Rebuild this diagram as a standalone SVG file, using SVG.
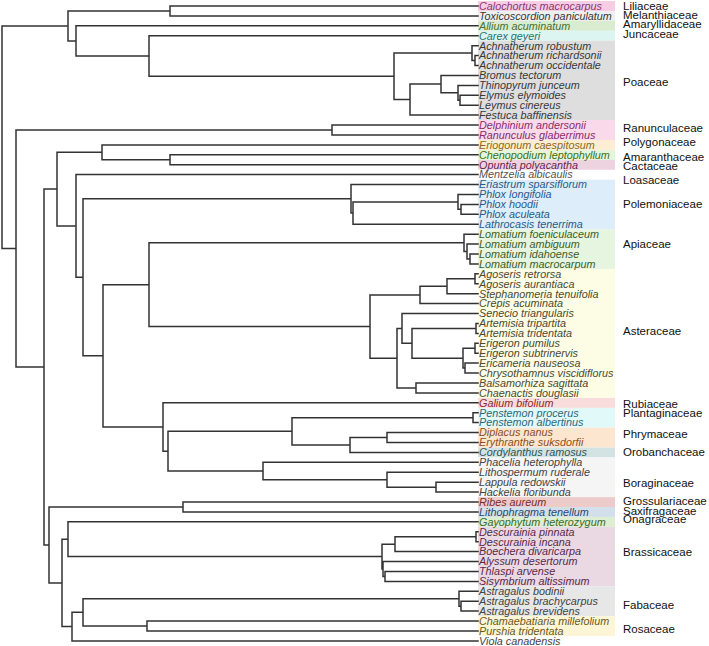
<svg xmlns="http://www.w3.org/2000/svg" width="709" height="646" viewBox="0 0 709 646">
<style>
.tip{font-family:"Liberation Sans",Arial,sans-serif;font-size:10.8px;font-style:italic;fill:#383838}
.fam{font-family:"Liberation Sans",Arial,sans-serif;font-size:11.5px;fill:#111}
.tree{fill:none;stroke:#333;stroke-width:1.5;stroke-linecap:square}
</style>
<rect width="709" height="646" fill="#fff"/>
<g id="bands">
<rect x="478" y="1.04" width="137" height="9.92" fill="#f7cde3"/>
<rect x="478" y="10.96" width="137" height="9.92" fill="#efefef"/>
<rect x="478" y="20.88" width="137" height="9.92" fill="#d9ecd0"/>
<rect x="478" y="30.8" width="137" height="9.92" fill="#dcf5f0"/>
<rect x="478" y="40.72" width="137" height="79.36" fill="#dedede"/>
<rect x="478" y="120.08" width="137" height="19.84" fill="#f9d9ea"/>
<rect x="478" y="140" width="137" height="9.92" fill="#fdedd3"/>
<rect x="478" y="149.92" width="137" height="9.92" fill="#e6f5d9"/>
<rect x="478" y="159.84" width="137" height="9.92" fill="#ecd3df"/>
<rect x="478" y="179.68" width="137" height="49.6" fill="#ddeefa"/>
<rect x="478" y="229.28" width="137" height="39.68" fill="#e5f5df"/>
<rect x="478" y="268.96" width="137" height="128.96" fill="#fdfde6"/>
<rect x="478" y="397.92" width="137" height="9.92" fill="#f9dcdc"/>
<rect x="478" y="407.84" width="137" height="19.84" fill="#e2f9f9"/>
<rect x="478" y="427.68" width="137" height="19.84" fill="#fde6d0"/>
<rect x="478" y="447.52" width="137" height="9.92" fill="#d3e3e3"/>
<rect x="478" y="457.44" width="137" height="39.68" fill="#f5f5f5"/>
<rect x="478" y="497.12" width="137" height="9.92" fill="#eecbcb"/>
<rect x="478" y="507.04" width="137" height="9.92" fill="#d3dfea"/>
<rect x="478" y="516.96" width="137" height="9.92" fill="#ddeed3"/>
<rect x="478" y="526.88" width="137" height="59.52" fill="#ead8e3"/>
<rect x="478" y="586.4" width="137" height="29.76" fill="#e7e7e7"/>
<rect x="478" y="616.16" width="137" height="19.84" fill="#fdf6d6"/>
</g>
<g id="connectors">
<path class="tree" d="M2 25.95V248.5M2 25.95H68M2 248.5H16
M68 10.95V40.95M68 10.95H170M68 40.95H76
M170 6V15.9M170 6H478M170 15.9H478
M76 25.8V56.1M76 25.8H478M76 56.1H149
M149 35.8V76.35M149 35.8H478M149 76.35H394
M394 53.1V99.6M394 53.1H472M394 99.6H410
M472 45.7V60.55M472 45.7H478M472 60.55H475
M475 55.6V65.5M475 55.6H478M475 65.5H478
M410 84.1V115.1M410 84.1H441M410 115.1H478
M441 75.4V92.8M441 75.4H478M441 92.8H458
M458 85.4V100.25M458 85.4H478M458 100.25H460
M460 95.3V105.2M460 95.3H478M460 105.2H478
M16 130V367M16 130H332M16 367H44
M332 125V135M332 125H478M332 135H478
M44 189.1V544.9M44 189.1H57M44 544.9H49
M57 152.3V225.95M57 152.3H102M57 225.95H76
M102 144.9V159.75M102 144.9H478M102 159.75H170
M170 154.8V164.7M170 154.8H478M170 164.7H478
M76 174.6V277.3M76 174.6H478M76 277.3H83
M83 198.8V355.85M83 198.8H351M83 355.85H103
M351 184.6V213.05M351 184.6H478M351 213.05H353
M353 201.9V224.2M353 201.9H458M353 224.2H478
M458 194.5V209.35M458 194.5H478M458 209.35H461
M461 204.4V214.3M461 204.4H478M461 214.3H478
M103 284.7V427M103 284.7H149M103 427H163
M149 242.85V326.55M149 242.85H464M149 326.55H370
M464 234.2V251.5M464 234.2H478M464 251.5H467
M467 244.1V258.95M467 244.1H478M467 258.95H470
M470 254V263.9M470 254H478M470 263.9H478
M370 294.9V358.2M370 294.9H420M370 358.2H397
M420 286.25V303.6M420 286.25H447M420 303.6H478
M447 278.8V293.7M447 278.8H475M447 293.7H478
M475 273.8V283.8M475 273.8H478M475 283.8H478
M397 328.4V387.95M397 328.4H402M397 387.95H416
M402 313.5V343.3M402 313.5H478M402 343.3H412
M412 328.4V358.15M412 328.4H476M412 358.15H463
M476 323.4V333.4M476 323.4H478M476 333.4H478
M463 348.25V368.05M463 348.25H475M463 368.05H465
M475 343.3V353.2M475 343.3H478M475 353.2H478
M465 363.1V373M465 363.1H478M465 373H478
M416 383V392.9M416 383H478M416 392.9H478
M163 402.8V451.15M163 402.8H478M163 451.15H168
M168 431.3V471M168 431.3H292M168 471H263
M292 417.65V444.98M292 417.65H473M292 444.98H350
M473 412.7V422.6M473 412.7H478M473 422.6H478
M350 437.55V452.4M350 437.55H387M350 452.4H478
M387 432.6V442.5M387 432.6H478M387 442.5H478
M263 462.3V479.7M263 462.3H478M263 479.7H387
M387 472.2V487.15M387 472.2H478M387 487.15H436
M436 482.2V492.1M436 482.2H478M436 492.1H478
M49 506.95V582.9M49 506.95H183M49 582.9H62
M183 502V511.9M183 502H478M183 511.9H478
M62 539.2V626.6M62 539.2H68M62 626.6H72
M68 521.8V556.6M68 521.8H478M68 556.6H382
M382 544.2V568.95M382 544.2H395M382 568.95H383
M395 536.75V551.6M395 536.75H476M395 551.6H478
M476 531.8V541.7M476 531.8H478M476 541.7H478
M383 561.5V576.4M383 561.5H478M383 576.4H385
M385 571.4V581.4M385 571.4H478M385 581.4H478
M72 612.35V640.9M72 612.35H83M72 640.9H478
M83 598.7V626M83 598.7H459M83 626H147
M459 591.3V606.15M459 591.3H478M459 606.15H461
M461 601.2V611.1M461 601.2H478M461 611.1H478
M147 621V631M147 621H478M147 631H478"/>
</g>
<g id="Liliaceae"><text class="tip" x="479" y="9.8" style="fill:#8e3470">Calochortus macrocarpus</text><text class="fam" x="623" y="9.6">Liliaceae</text></g>
<g id="Melanthiaceae"><text class="tip" x="479" y="19.7">Toxicoscordion paniculatum</text><text class="fam" x="623" y="19.4">Melanthiaceae</text></g>
<g id="Amaryllidaceae"><text class="tip" x="479" y="29.6" style="fill:#4a7030">Allium acuminatum</text><text class="fam" x="623" y="28.4">Amaryllidaceae</text></g>
<g id="Juncaceae"><text class="tip" x="479" y="39.6" style="fill:#2a7070">Carex geyeri</text><text class="fam" x="623" y="37.6">Juncaceae</text></g>
<g id="Poaceae">
<text class="tip" x="479" y="49.5">Achnatherum robustum</text>
<text class="tip" x="479" y="59.4">Achnatherum richardsonii</text>
<text class="tip" x="479" y="69.3">Achnatherum occidentale</text>
<text class="tip" x="479" y="79.2">Bromus tectorum</text>
<text class="tip" x="479" y="89.2">Thinopyrum junceum</text>
<text class="tip" x="479" y="99.1">Elymus elymoides</text>
<text class="tip" x="479" y="109">Leymus cinereus</text>
<text class="tip" x="479" y="118.9">Festuca baffinensis</text>
<text class="fam" x="623" y="85.5">Poaceae</text></g>
<g id="Ranunculaceae">
<text class="tip" x="479" y="128.8" style="fill:#8a2d6a">Delphinium andersonii</text>
<text class="tip" x="479" y="138.8" style="fill:#8a2d6a">Ranunculus glaberrimus</text>
<text class="fam" x="623" y="131.7">Ranunculaceae</text></g>
<g id="Polygonaceae"><text class="tip" x="479" y="148.7" style="fill:#8a6a20">Eriogonum caespitosum</text><text class="fam" x="623" y="145.7">Polygonaceae</text></g>
<g id="Amaranthaceae"><text class="tip" x="479" y="158.6" style="fill:#3a7020">Chenopodium leptophyllum</text><text class="fam" x="623" y="160.8">Amaranthaceae</text></g>
<g id="Cactaceae"><text class="tip" x="479" y="168.5" style="fill:#6b2450">Opuntia polyacantha</text><text class="fam" x="623" y="170.2">Cactaceae</text></g>
<g id="Loasaceae"><text class="tip" x="479" y="178.4" style="fill:#555">Mentzelia albicaulis</text><text class="fam" x="623" y="184">Loasaceae</text></g>
<g id="Polemoniaceae">
<text class="tip" x="479" y="188.4" style="fill:#2a5a8a">Eriastrum sparsiflorum</text>
<text class="tip" x="479" y="198.3" style="fill:#2a5a8a">Phlox longifolia</text>
<text class="tip" x="479" y="208.2" style="fill:#2a5a8a">Phlox hoodii</text>
<text class="tip" x="479" y="218.1" style="fill:#2a5a8a">Phlox aculeata</text>
<text class="tip" x="479" y="228" style="fill:#2a5a8a">Lathrocasis tenerrima</text>
<text class="fam" x="623" y="208.3">Polemoniaceae</text></g>
<g id="Apiaceae">
<text class="tip" x="479" y="238" style="fill:#3d5e2a">Lomatium foeniculaceum</text>
<text class="tip" x="479" y="247.9" style="fill:#3d5e2a">Lomatium ambiguum</text>
<text class="tip" x="479" y="257.8" style="fill:#3d5e2a">Lomatium idahoense</text>
<text class="tip" x="479" y="267.7" style="fill:#3d5e2a">Lomatium macrocarpum</text>
<text class="fam" x="623" y="247.7">Apiaceae</text></g>
<g id="Asteraceae">
<text class="tip" x="479" y="277.6" style="fill:#4a4a30">Agoseris retrorsa</text>
<text class="tip" x="479" y="287.6" style="fill:#4a4a30">Agoseris aurantiaca</text>
<text class="tip" x="479" y="297.5" style="fill:#4a4a30">Stephanomeria tenuifolia</text>
<text class="tip" x="479" y="307.4" style="fill:#4a4a30">Crepis acuminata</text>
<text class="tip" x="479" y="317.3" style="fill:#4a4a30">Senecio triangularis</text>
<text class="tip" x="479" y="327.2" style="fill:#4a4a30">Artemisia tripartita</text>
<text class="tip" x="479" y="337.2" style="fill:#4a4a30">Artemisia tridentata</text>
<text class="tip" x="479" y="347.1" style="fill:#4a4a30">Erigeron pumilus</text>
<text class="tip" x="479" y="357" style="fill:#4a4a30">Erigeron subtrinervis</text>
<text class="tip" x="479" y="366.9" style="fill:#4a4a30">Ericameria nauseosa</text>
<text class="tip" x="479" y="376.8" style="fill:#4a4a30">Chrysothamnus viscidiflorus</text>
<text class="tip" x="479" y="386.8" style="fill:#4a4a30">Balsamorhiza sagittata</text>
<text class="tip" x="479" y="396.7" style="fill:#4a4a30">Chaenactis douglasii</text>
<text class="fam" x="623" y="335">Asteraceae</text></g>
<g id="Rubiaceae"><text class="tip" x="479" y="406.6" style="fill:#8b2a2a">Galium bifolium</text><text class="fam" x="623" y="407.7">Rubiaceae</text></g>
<g id="Plantaginaceae">
<text class="tip" x="479" y="416.5" style="fill:#2a6a7a">Penstemon procerus</text>
<text class="tip" x="479" y="426.4" style="fill:#2a6a7a">Penstemon albertinus</text>
<text class="fam" x="623" y="417">Plantaginaceae</text></g>
<g id="Phrymaceae">
<text class="tip" x="479" y="436.4" style="fill:#8a4f1e">Diplacus nanus</text>
<text class="tip" x="479" y="446.3" style="fill:#8a4f1e">Erythranthe suksdorfii</text>
<text class="fam" x="623" y="438.3">Phrymaceae</text></g>
<g id="Orobanchaceae"><text class="tip" x="479" y="456.2" style="fill:#2f5555">Cordylanthus ramosus</text><text class="fam" x="623" y="456">Orobanchaceae</text></g>
<g id="Boraginaceae">
<text class="tip" x="479" y="466.1" style="fill:#444">Phacelia heterophylla</text>
<text class="tip" x="479" y="476" style="fill:#444">Lithospermum ruderale</text>
<text class="tip" x="479" y="486" style="fill:#444">Lappula redowskii</text>
<text class="tip" x="479" y="495.9" style="fill:#444">Hackelia floribunda</text>
<text class="fam" x="623" y="486.7">Boraginaceae</text></g>
<g id="Grossulariaceae"><text class="tip" x="479" y="505.8" style="fill:#7a2a2a">Ribes aureum</text><text class="fam" x="623" y="504.8">Grossulariaceae</text></g>
<g id="Saxifragaceae"><text class="tip" x="479" y="515.7" style="fill:#2a4a6a">Lithophragma tenellum</text><text class="fam" x="623" y="514.6">Saxifragaceae</text></g>
<g id="Onagraceae"><text class="tip" x="479" y="525.6" style="fill:#3a6a2a">Gayophytum heterozygum</text><text class="fam" x="623" y="523">Onagraceae</text></g>
<g id="Brassicaceae">
<text class="tip" x="479" y="535.6" style="fill:#5a2a4a">Descurainia pinnata</text>
<text class="tip" x="479" y="545.5" style="fill:#5a2a4a">Descurainia incana</text>
<text class="tip" x="479" y="555.4" style="fill:#5a2a4a">Boechera divaricarpa</text>
<text class="tip" x="479" y="565.3" style="fill:#5a2a4a">Alyssum desertorum</text>
<text class="tip" x="479" y="575.2" style="fill:#5a2a4a">Thlaspi arvense</text>
<text class="tip" x="479" y="585.2" style="fill:#5a2a4a">Sisymbrium altissimum</text>
<text class="fam" x="623" y="556">Brassicaceae</text></g>
<g id="Fabaceae">
<text class="tip" x="479" y="595.1" style="fill:#444">Astragalus bodinii</text>
<text class="tip" x="479" y="605" style="fill:#444">Astragalus brachycarpus</text>
<text class="tip" x="479" y="614.9" style="fill:#444">Astragalus brevidens</text>
<text class="fam" x="623" y="609.3">Fabaceae</text></g>
<g id="Rosaceae">
<text class="tip" x="479" y="624.8" style="fill:#6a5a1a">Chamaebatiaria millefolium</text>
<text class="tip" x="479" y="634.8" style="fill:#6a5a1a">Purshia tridentata</text>
<text class="fam" x="623" y="632.7">Rosaceae</text></g>
<g id="Viola"><text class="tip" x="479" y="644.7" style="fill:#444">Viola canadensis</text></g>
</svg>
